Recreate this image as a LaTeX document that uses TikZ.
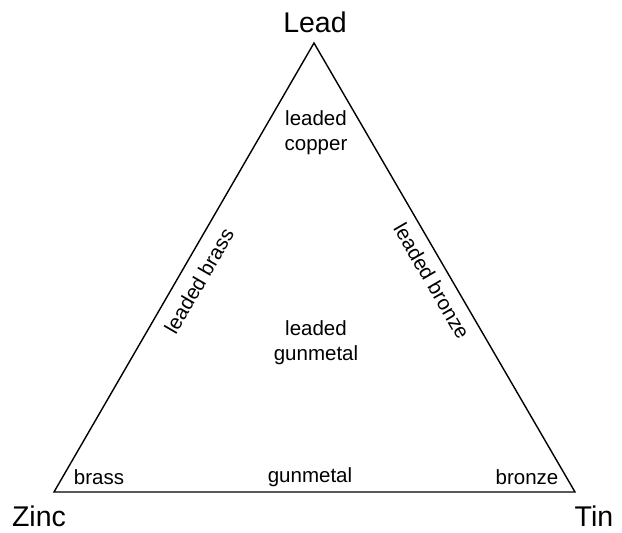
\documentclass[tikz,border=0pt]{standalone}
\usepackage{fontspec}
\setmainfont{Liberation Sans}
\begin{document}
\begin{tikzpicture}[x=1pt,y=-1pt,
  big/.style={font=\fontsize{28.5}{32}\selectfont, inner sep=0pt},
  small/.style={font=\fontsize{20.5}{25}\selectfont, inner sep=0pt, align=center},
  edge/.style={line width=1.4pt, line join=miter}]
\useasboundingbox (0,0) rectangle (622,533);
\coordinate (A) at (314,43);
\coordinate (Z) at (54,492);
\coordinate (T) at (575,492);
\draw[edge] (A) -- (Z) -- (T) -- cycle;
\node[big] (lead) at (315,22) {Lead};
\node[big] (zinc) at (39,516) {Zinc};
\node[big] (tin) at (594,516) {Tin};
\node[small] (lc) at (316,133) {leaded\\copper};
\node[small] (lg) at (316,343) {leaded\\gunmetal};
\node[small, rotate=59.9] (lbr) at (199,281) {leaded brass};
\node[small, rotate=-59.8] (lbz) at (432,281) {leaded bronze};
\node[small] (br) at (99,477) {brass};
\node[small] (gm) at (310,477) {gunmetal};
\node[small] (bz) at (527,477) {bronze};
\end{tikzpicture}
\end{document}
